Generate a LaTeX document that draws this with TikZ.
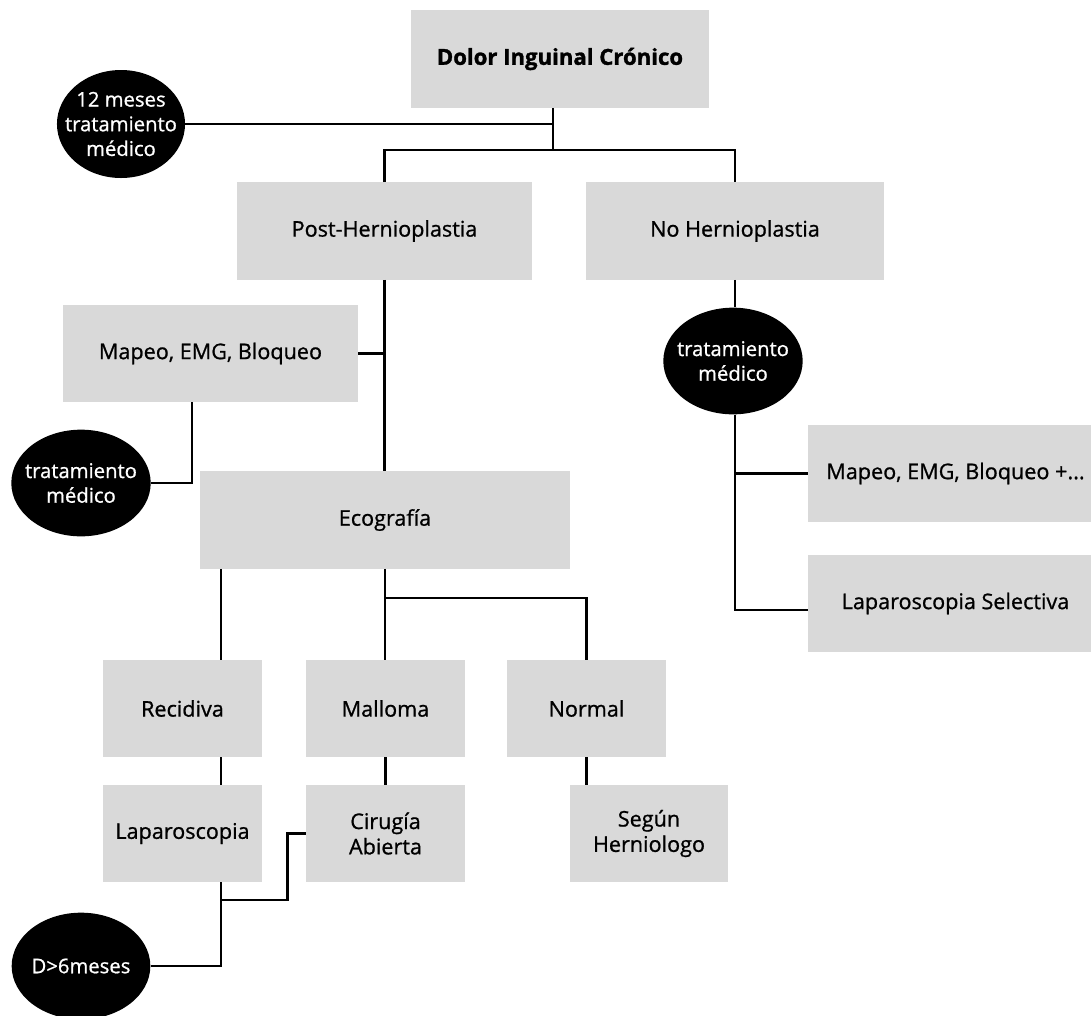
\documentclass[tikz,border=0pt]{standalone}
\usepackage{fontspec}
\setmainfont{Open Sans}[UprightFeatures={FakeBold=0.9}, BoldFeatures={FakeBold=1.4}]
\usetikzlibrary{positioning,shapes.geometric}
\definecolor{boxgray}{HTML}{D9D9D9}

\begin{document}
\begin{tikzpicture}[
  x=0.75pt, y=-0.75pt,
  box/.style={fill=boxgray, minimum width=221pt, minimum height=73pt,
              align=center, inner sep=2pt, font=\fontsize{16.2}{19}\selectfont},
  small/.style={box, minimum width=119pt},
  wide/.style={box, minimum width=277.5pt},
  title/.style={box, minimum width=223.5pt, font=\fontsize{16.6}{19}\selectfont\bfseries},
  pill/.style={ellipse, fill=black, text=white, minimum width=104pt,
               minimum height=80pt, inner xsep=-5pt, inner ysep=0pt, align=center,
               font=\fontsize{15.2}{18.5}\selectfont},
  link/.style={draw, line width=1.9pt},
]
  \useasboundingbox (0,0) rectangle (1091,1015);

  % Boxes
  \node[title] (dolor) at (560,59) {Dolor Inguinal Crónico};
  \node[box] (post) at (384.5,231) {Post-Hernioplastia};
  \node[box, minimum width=223pt] (nohern) at (735,231) {No Hernioplastia};
  \node[box] (mapeo) at (210.5,353.5) {Mapeo, EMG, Bloqueo};
  \node[wide] (eco) at (385,520) {Ecografía};
  \node[box] (mapeor) at (955.5,473.5) {Mapeo, EMG, Bloqueo +...};
  \node[box] (lapsel) at (955.5,603.5) {Laparoscopia Selectiva};
  \node[small] (recid) at (182.5,708.5) {Recidiva};
  \node[small] (mallo) at (385.5,708.5) {Malloma};
  \node[small] (normal) at (586.5,708.5) {Normal};
  \node[small] (lapa) at (182.5,833.5) {Laparoscopia};
  \node[small] (cirug) at (385.5,833.5) {Cirugía\\Abierta};
  \node[small] (segun) at (649,833.5) {Según\\Herniologo};

  % Ellipses
  \node[pill, minimum width=96pt, minimum height=81pt, inner xsep=-8pt, inner ysep=-2pt]
    (doce) at (121,124) {12 meses\\tratamiento\\médico};
  \node[pill] (tratr) at (733,361) {tratamiento\\médico};
  \node[pill] (tratl) at (81,483) {tratamiento\\médico};
  \node[pill] (dmes) at (81,966) {D>6meses};

  % Connectors
  \coordinate (split) at (553,150);
  \coordinate (lcol) at (221,0);
  \coordinate (mcol) at (192,0);
  \coordinate (esplit) at (385,598);
  \coordinate (lbend) at (221,900);
  \draw[link] (dolor.south -| split) -- (split);
  \draw[link] (doce.east) -- (doce.east -| split);
  \draw[link] (post.north) |- (split) -| (nohern.north);
  \draw[link] (post.south) -- (post.south |- eco.north);
  \draw[link] (mapeo.east) -- (mapeo.east -| post.south);
  \draw[link] (mapeo.south -| mcol) |- (tratl.east);
  \draw[link] (nohern.south) -- (nohern.south |- tratr.north);
  \draw[link] (tratr.south -| nohern.south) |- (mapeor.west);
  \draw[link] (tratr.south -| nohern.south) |- ([yshift=-5pt]lapsel.west);
  \draw[link] (eco.south -| lcol) -- (recid.north -| lcol);
  \draw[link] (recid.south -| lcol) -- (lapa.north -| lcol);
  \draw[link] (eco.south) -- (eco.south |- mallo.north);
  \draw[link] (esplit) -| (normal.north);
  \draw[link] (mallo.south) -- (cirug.north);
  \draw[link] (normal.south) -- (normal.south |- segun.north);
  \draw[link] (lapa.south -| lcol) |- (dmes.east);
  \draw[link] (lbend) -| ([xshift=-14pt]cirug.west) -- (cirug.west);
\end{tikzpicture}
\end{document}
